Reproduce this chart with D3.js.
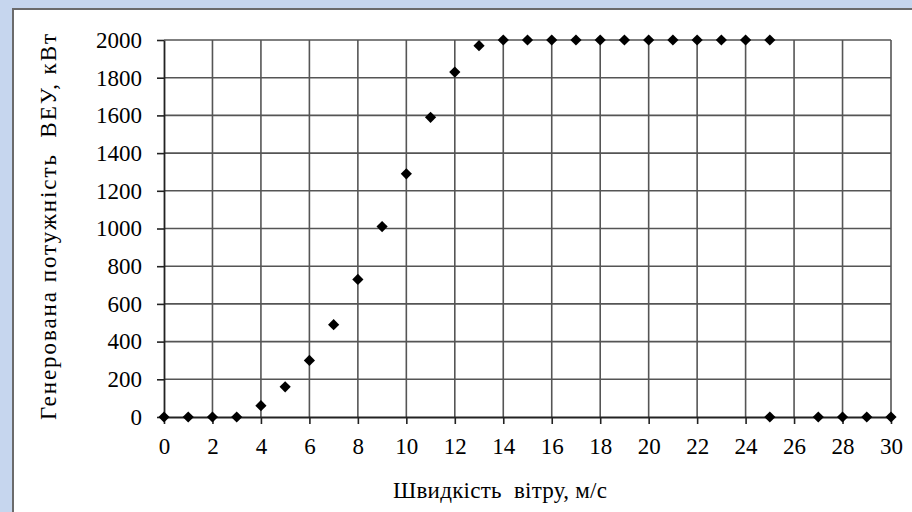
<!DOCTYPE html>
<html>
<head>
<meta charset="utf-8">
<script src="https://cdn.jsdelivr.net/npm/d3@7"></script>
<style>
  body { margin: 0; background: #c6d6ee; overflow: hidden; }
  svg { display: block; }
  text { white-space: pre; font-family: "Liberation Serif", "DejaVu Serif", serif; }
</style>
</head>
<body>
<svg id="chart"></svg>
<script>
// wind speed, m/s
var speeds = [0, 1, 2, 3, 4, 5, 6, 7, 8, 9, 10, 11, 12, 13, 14, 15, 16, 17, 18, 19, 20, 21, 22, 23, 24, 25, 25, 27, 28, 29, 30];
// generated power, kW
var powers = [0, 0, 0, 0, 60, 160, 300, 490, 730, 1010, 1290, 1590, 1830, 1970, 2000, 2000, 2000, 2000, 2000, 2000, 2000, 2000, 2000, 2000, 2000, 2000, 0, 0, 0, 0, 0];
var xTicks = d3.range(0, 31, 2);
var yTicks = d3.range(0, 2001, 200);
var xTitle = "Швидкість  вітру, м/с";
var yTitle = "Генерована потужність  ВЕУ, кВт";

var width = 912, height = 512;
var m = { left: 164, right: 891, top: 40, bottom: 417 };

var svg = d3.select("#chart").attr("width", width).attr("height", height);

// white panel with grey frame (cut at right/bottom)
svg.append("rect")
  .attr("x", 13).attr("y", 9)
  .attr("width", width).attr("height", height)
  .attr("fill", "white")
  .attr("stroke", "#6b6b6b")
  .attr("stroke-width", 2);

var x = d3.scaleLinear().domain([0, 30]).range([m.left, m.right]);
var y = d3.scaleLinear().domain([0, 2000]).range([m.bottom, m.top]);

// grid
svg.append("g").selectAll("line")
  .data(xTicks.slice(1))
  .enter().append("line")
  .attr("x1", function (d) { return x(d); })
  .attr("x2", function (d) { return x(d); })
  .attr("y1", m.top).attr("y2", m.bottom)
  .attr("stroke", "#555").attr("stroke-width", 1.6);

svg.append("g").selectAll("line")
  .data(yTicks.slice(1))
  .enter().append("line")
  .attr("x1", m.left).attr("x2", m.right)
  .attr("y1", function (d) { return y(d); })
  .attr("y2", function (d) { return y(d); })
  .attr("stroke", "#555").attr("stroke-width", 1.6);

// axes
var xAxis = svg.append("g")
  .attr("transform", "translate(0," + m.bottom + ")")
  .call(d3.axisBottom(x).tickValues(xTicks).tickFormat(d3.format("d"))
    .tickSize(7).tickPadding(14).tickSizeOuter(0));
var yAxis = svg.append("g")
  .attr("transform", "translate(" + m.left + ",0)")
  .call(d3.axisLeft(y).tickValues(yTicks).tickFormat(d3.format("d"))
    .tickSize(7).tickPadding(15).tickSizeOuter(0));

[xAxis, yAxis].forEach(function (ax) {
  ax.attr("font-family", null).attr("font-size", null);
  ax.select(".domain").attr("stroke", "#222").attr("stroke-width", 1.8);
  ax.selectAll(".tick line").attr("stroke", "#222").attr("stroke-width", 1.6);
  ax.selectAll("text")
    .style("font-size", "23px")
    .attr("fill", "#000");
});

// markers
svg.append("g").selectAll("path")
  .data(speeds)
  .enter().append("path")
  .attr("d", d3.symbol().type(d3.symbolDiamond2).size(80))
  .attr("transform", function (d, i) {
    return "translate(" + x(d) + "," + y(powers[i]) + ")";
  })
  .attr("fill", "#000");

// titles
svg.append("text")
  .attr("x", 500).attr("y", 498)
  .attr("text-anchor", "middle")
  .attr("textLength", 214)
  .style("font-size", "23px")
  .text(xTitle);

svg.append("text")
  .attr("transform", "translate(56,227) rotate(-90)")
  .attr("text-anchor", "middle")
  .attr("textLength", 386)
  .style("font-size", "23px")
  .text(yTitle);
</script>
</body>
</html>
